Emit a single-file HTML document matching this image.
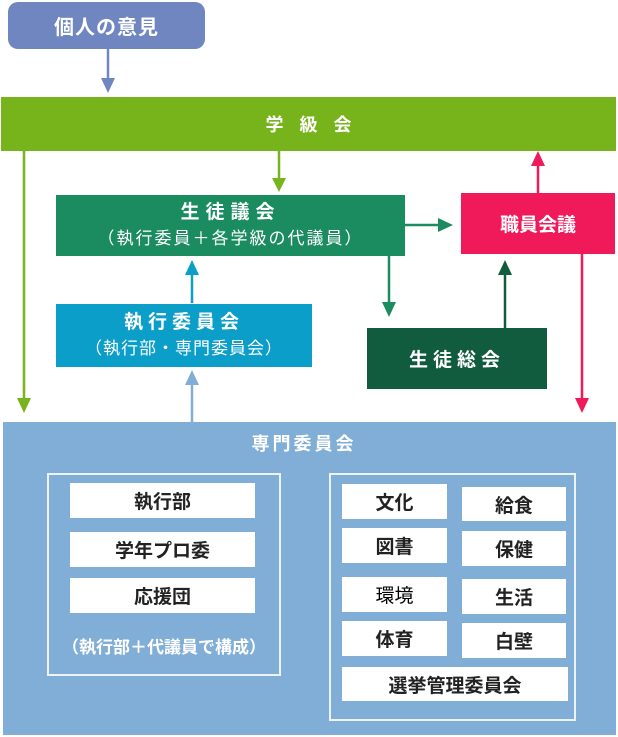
<!DOCTYPE html>
<html><head><meta charset="utf-8"><style>
body{margin:0;width:618px;height:737px;background:#fff;position:relative;overflow:hidden;font-family:"Liberation Sans","Noto Sans CJK JP",sans-serif}
.b{position:absolute;display:flex;flex-direction:column;align-items:center;justify-content:center;color:#fff;font-weight:bold;box-sizing:border-box;text-align:center}
.w{position:absolute;background:#fff;color:#222;font-weight:bold;font-size:19px;display:flex;align-items:center;justify-content:center}
.f{position:absolute;border:2px solid #fff;box-sizing:border-box;opacity:.85}
svg{position:absolute;left:0;top:0}
</style></head><body>
<div class="b" style="left:8px;top:2px;width:197px;height:47px;background:#6f86c0;border-radius:10px;font-size:20px;letter-spacing:1px">個人の意見</div>
<div class="b" style="left:1px;top:97px;width:615px;height:54px;background:#77b31b;font-size:18px;letter-spacing:16px;padding-left:16px">学級会</div>
<div class="b" style="left:56px;top:195px;width:349px;height:61px;background:#1a8c60;font-size:19px;line-height:26px"><div style="letter-spacing:6px">生徒議会</div><div style="font-weight:normal;font-size:17px;letter-spacing:2px">（執行委員＋各学級の代議員）</div></div>
<div class="b" style="left:461px;top:193px;width:154px;height:61px;background:#f0195a;font-size:19px">職員会議</div>
<div class="b" style="left:56px;top:304px;width:256px;height:63px;background:#0a9ec8;font-size:19px;line-height:26px"><div style="letter-spacing:5px">執行委員会</div><div style="font-weight:normal;font-size:17px;letter-spacing:1px">（執行部・専門委員会）</div></div>
<div class="b" style="left:367px;top:328px;width:180px;height:61px;background:#115c3f;font-size:19px;letter-spacing:5px">生徒総会</div>
<div style="position:absolute;left:3px;top:422px;width:613px;height:313px;background:#80aed6"></div>
<div class="b" style="left:204px;top:431px;width:200px;height:24px;font-size:18px;letter-spacing:3px">専門委員会</div>
<div class="f" style="left:47px;top:473px;width:234px;height:203px"></div>
<div class="f" style="left:329px;top:473px;width:247px;height:248px"></div>
<div class="w" style="left:70px;top:483px;width:185px;height:35px">執行部</div>
<div class="w" style="left:70px;top:532px;width:185px;height:35px">学年プロ委</div>
<div class="w" style="left:70px;top:578px;width:185px;height:35px">応援団</div>
<div class="b" style="left:47px;top:633px;width:234px;height:24px;font-size:17px">（執行部＋代議員で構成）</div>
<div class="w" style="left:342px;top:484px;width:105px;height:35px">文化</div>
<div class="w" style="left:462px;top:487px;width:104px;height:34px">給食</div>
<div class="w" style="left:342px;top:528px;width:105px;height:35px">図書</div>
<div class="w" style="left:462px;top:531px;width:104px;height:35px">保健</div>
<div class="w" style="left:342px;top:577px;width:105px;height:35px;font-weight:normal;color:#000">環境</div>
<div class="w" style="left:462px;top:579px;width:104px;height:35px">生活</div>
<div class="w" style="left:342px;top:621px;width:105px;height:35px">体育</div>
<div class="w" style="left:462px;top:623px;width:104px;height:35px">白壁</div>
<div class="w" style="left:342px;top:667px;width:226px;height:34px">選挙管理委員会</div>
<svg width="618" height="737">
<g stroke-width="2.5" fill="none">
<line x1="108" y1="49" x2="108" y2="80" stroke="#6f86c0"/>
<line x1="24" y1="151" x2="24" y2="400" stroke="#77b31b"/>
<line x1="279" y1="151" x2="279" y2="180" stroke="#77b31b"/>
<line x1="405" y1="225" x2="440" y2="225" stroke="#1a8c60"/>
<line x1="538" y1="193" x2="538" y2="164" stroke="#f0195a"/>
<line x1="582" y1="254" x2="582" y2="400" stroke="#f0195a"/>
<line x1="389" y1="256" x2="389" y2="304" stroke="#1a8c60"/>
<line x1="505" y1="328" x2="505" y2="273" stroke="#115c3f"/>
<line x1="192" y1="303" x2="192" y2="273" stroke="#0a9ec8"/>
<line x1="192" y1="422" x2="192" y2="383" stroke="#80aed6"/>
</g>
<polygon points="101,78 115,78 108,93" fill="#6f86c0"/>
<polygon points="17,398 31,398 24,413" fill="#77b31b"/>
<polygon points="272,178 286,178 279,192" fill="#77b31b"/>
<polygon points="438,218 438,232 453,225" fill="#1a8c60"/>
<polygon points="531,166 545,166 538,151" fill="#f0195a"/>
<polygon points="575,398 589,398 582,413" fill="#f0195a"/>
<polygon points="382,302 396,302 389,317" fill="#1a8c60"/>
<polygon points="498,275 512,275 505,260" fill="#115c3f"/>
<polygon points="185,275 199,275 192,260" fill="#0a9ec8"/>
<polygon points="185,385 199,385 192,370" fill="#80aed6"/>
</svg>
</body></html>
